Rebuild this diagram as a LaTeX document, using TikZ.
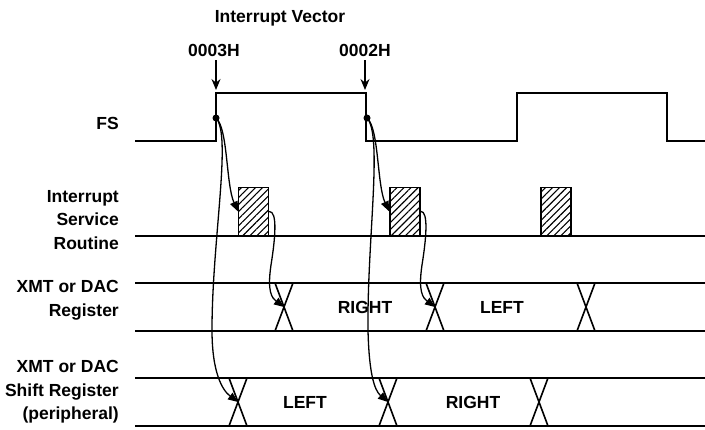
\documentclass[tikz,border=0pt]{standalone}
\usepackage{fontspec}
\setmainfont{Liberation Sans}
\usetikzlibrary{arrows.meta,patterns.meta}
\tikzset{
  sig/.style={line width=1.6pt},
  sig label/.style={font=\bfseries\fontsize{17.5}{23.5}\selectfont,align=right,anchor=east,inner sep=0pt},
  data label/.style={font=\bfseries\fontsize{17.5}{23}\selectfont,inner sep=0pt},
  isr box/.style={draw,line width=1.5pt,pattern={Lines[angle=45,distance=5pt,line width=1.1pt]},minimum width=30pt,minimum height=48pt,inner sep=0pt,anchor=south west},
  flow arrow/.style={-{Triangle[length=10pt,width=8pt]},line width=1.3pt},
  vector arrow/.style={-{Stealth[length=11pt,width=9pt]},line width=1.4pt},
  tap/.style={circle,fill,inner sep=0pt,minimum size=7pt}
}
\newcommand{\busx}[3]{\draw[sig] (#1-9,#2) -- (#1+9,#3) (#1-9,#3) -- (#1+9,#2);}

\begin{document}
\begin{tikzpicture}[x=1pt,y=-1pt]
  \useasboundingbox (0,0) rectangle (705,429);
  \node[data label] (ivec) at (280,18) {Interrupt Vector};
  \node[data label] (v3) at (214,50) {0003H};
  \node[data label] (v2) at (365,50) {0002H};
  \coordinate (fsup1) at (216,90);
  \coordinate (fsup2) at (365,90);
  \draw[vector arrow] (v3.south) ++(2,4) -- (fsup1);
  \draw[vector arrow] (v2.south) ++(0,4) -- (fsup2);

  \node[sig label] (fs) at (119,123) {FS};
  \node[sig label] (isr) at (119,220) {Interrupt\\Service\\Routine};
  \node[sig label] (xmt) at (119,300) {XMT or DAC\\Register};
  \node[sig label] (shift) at (119,392) {XMT or DAC\\Shift Register\\(peripheral)};

  \draw[sig] (135,141) -- (216,141) -- (216,93) -- (366,93) -- (366,141) -- (517,141)
    -- (517,93) -- (667,93) -- (667,141) -- (705,141);
  \draw[sig] (135,236) -- (705,236);
  \draw[sig] (135,283) -- (705,283) (135,331) -- (705,331);
  \draw[sig] (135,378) -- (705,378) (135,426) -- (705,426);

  \node[isr box] (isr1) at (238,236) {};
  \node[isr box] (isr2) at (389,236) {};
  \node[isr box] (isr3) at (540,236) {};

  \busx{284}{283}{331}
  \busx{435}{283}{331}
  \busx{586}{283}{331}
  \busx{238}{378}{426}
  \busx{388}{378}{426}
  \busx{539}{378}{426}
  \node[data label] (xr) at (365,307) {RIGHT};
  \node[data label] (xl) at (502,307) {LEFT};
  \node[data label] (sl) at (305,402) {LEFT};
  \node[data label] (sr) at (473,402) {RIGHT};
  \coordinate (xmt1) at (284,307);
  \coordinate (xmt2) at (435,307);
  \coordinate (sh1) at (238,402);
  \coordinate (sh2) at (388,402);

  \node[tap] (tap1) at (216,118) {};
  \node[tap] (tap2) at (367,118) {};
  \draw[flow arrow] (tap1.center) .. controls (228,128) and (226,185) .. (isr1.west);
  \draw[flow arrow] (tap2.center) .. controls (379,128) and (377,185) .. (isr2.west);
  \draw[flow arrow] (tap1.center) .. controls (232,135) and (212,240) .. (212,330)
    .. controls (212,372) and (222,390) .. (sh1);
  \draw[flow arrow] (tap2.center) .. controls (383,135) and (367,240) .. (368,330)
    .. controls (369,372) and (374,390) .. (sh2);
  \draw[flow arrow] (isr1.east) .. controls (278,211) and (275,240) .. (271,265)
    .. controls (267,292) and (272,298) .. (xmt1);
  \draw[flow arrow] (isr2.east) .. controls (429,211) and (426,240) .. (422,265)
    .. controls (418,292) and (423,298) .. (xmt2);
\end{tikzpicture}
\end{document}
